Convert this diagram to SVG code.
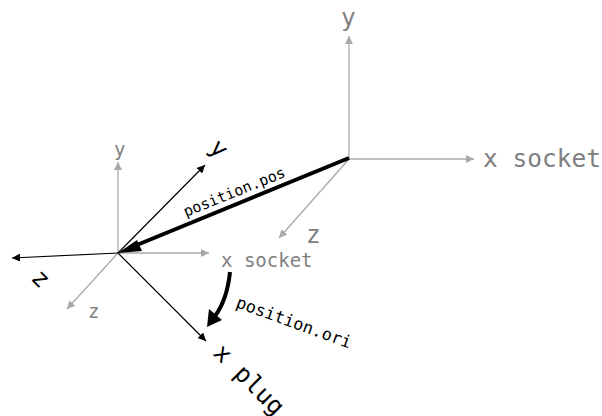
<svg xmlns="http://www.w3.org/2000/svg" width="602" height="416" viewBox="0 0 602 416">
<style>
text{font-family:"DejaVu Sans Mono","Liberation Mono",monospace}
.g{fill:#808080}.k{fill:#000}
.big{font-size:24.5px}.mid{font-size:19px}.lab{font-size:15px}.lab2{font-size:16.8px}
.lg{stroke:#a9a9a9;stroke-width:1.3;fill:none;marker-end:url(#ag)}
.lk{stroke:#000;stroke-width:1.2;fill:none;marker-end:url(#ak)}
</style>
<defs>
<marker id="ag" markerUnits="userSpaceOnUse" markerWidth="9" markerHeight="8" refX="8" refY="4" orient="auto"><path d="M0 0L8 4L0 8Z" fill="#a9a9a9"/></marker>
<marker id="ak" markerUnits="userSpaceOnUse" markerWidth="9" markerHeight="8" refX="8" refY="4" orient="auto"><path d="M0 0L8 4L0 8Z" fill="#000"/></marker>
</defs>
<g id="connectors">
<path class="lg" d="M349 159V36"/>
<path class="lg" d="M349 159H474"/>
<path class="lg" d="M349 159L279 238"/>
<path class="lg" d="M118 253V162"/>
<path class="lg" d="M118 253H209"/>
<path class="lg" d="M118 253L67 309"/>
<path class="lk" d="M118 253L205 165"/>
<path class="lk" d="M118 253L12 258"/>
<path class="lk" d="M118 253L206 341"/>
<path d="M349 158L132 247" stroke="#000" stroke-width="4" fill="none"/>
<path d="M118 253L137 240L142 251Z" fill="#000"/>
<path d="M230 272C228 291 224 304 215 316" stroke="#000" stroke-width="4" fill="none"/>
<path d="M207 327L209 309L222 320Z" fill="#000"/>
</g>
<g id="socket-frame">
<text class="g big" x="341" y="26">y</text>
<text class="g big" x="483" y="167">x socket</text>
<text class="g big" x="306" y="243">z</text>
</g>
<g id="socket-frame-small">
<text class="g mid" x="114" y="156">y</text>
<text class="g mid" x="221" y="267">x socket</text>
<text class="g mid" x="88" y="318">z</text>
</g>
<g id="plug-frame">
<text class="k big" transform="translate(208 149) rotate(45)">y</text>
<text class="k big" transform="translate(30 279) rotate(45)">z</text>
<text class="k big" transform="translate(212 354) rotate(45)">x plug</text>
</g>
<g id="labels">
<text class="k lab" transform="translate(186 217) rotate(-22)">position.pos</text>
<text class="k lab2" transform="translate(235 307) rotate(20)">position.ori</text>
</g>
</svg>
